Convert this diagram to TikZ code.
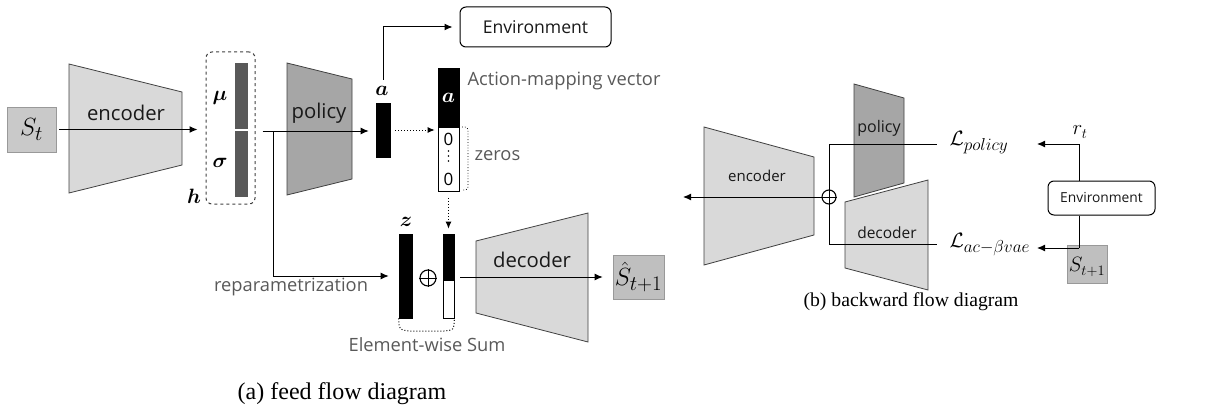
\documentclass[tikz,border=0pt]{standalone}
\usepackage{amsmath,bm}
\usepackage{fontspec}
\setmainfont{Liberation Serif}
\newfontfamily\lblfont{Open Sans}
\usetikzlibrary{arrows.meta}

% larger sub/superscripts for the state and loss symbols
\DeclareMathSizes{28}{28}{21}{16}
\DeclareMathSizes{26}{26}{19.5}{15}
\DeclareMathSizes{21}{21}{17}{12}
\DeclareMathSizes{20}{20}{15.5}{11}

\definecolor{lightfill}{HTML}{D9D9D9}
\definecolor{policyfill}{HTML}{A6A6A6}
\definecolor{statefill}{HTML}{C9C9C9}
\definecolor{statedark}{HTML}{BFBFBF}
\definecolor{barfill}{HTML}{595959}
\definecolor{labelgray}{HTML}{595959}
\definecolor{edgegray}{HTML}{404040}

\begin{document}
\begin{tikzpicture}[x=1pt,y=-1pt,
  net/.style={draw=edgegray, line width=0.8pt},
  flow/.style={-{Latex[length=8pt,width=7pt]}, line width=1pt},
  dotflow/.style={-{Latex[length=7pt,width=6pt]}, line width=1pt, dotted},
  plain/.style={line width=1pt},
  statebox/.style={draw=gray!80, line width=0.6pt, inner sep=0pt},
  blackbar/.style={fill=black, draw=black, line width=0.6pt, inner sep=0pt, minimum width=14pt},
  whitebar/.style={fill=white, draw=black, line width=0.6pt, inner sep=0pt},
  envbox/.style={draw=black, line width=1pt, rounded corners=6pt, inner sep=0pt, fill=white},
  sumcirc/.style={circle, draw=black, line width=1.1pt, inner sep=0pt, fill=white},
  bigtext/.style={font=\lblfont\fontsize{20.3}{20.3}\selectfont, text=black!90},
  midtext/.style={font=\lblfont\fontsize{15.5}{15.5}\selectfont, text=black!90},
  graytext/.style={font=\lblfont\fontsize{18.3}{18.3}\selectfont, text=labelgray},
]
\useasboundingbox (0,0) rectangle (1225,409);

%% ---------------- (a) feed flow ----------------
% input state
\node[statebox, fill=statefill, minimum width=49pt, minimum height=45pt] (st) at (31.5,129.5)
  {\fontsize{28}{28}\selectfont$S_t$};

% encoder
\draw[net, fill=lightfill] (69,64) -- (182,92) -- (182,165) -- (69,193) -- cycle;
\node[bigtext] (enc) at (126,113) {encoder};

% latent h = (mu, sigma)
\node[draw=edgegray, dashed, line width=1pt, rounded corners=6pt,
      minimum width=49pt, minimum height=152pt] (hbox) at (230.5,128) {};
\node[fill=barfill, inner sep=0pt, minimum width=13pt, minimum height=65.5pt] (mubar) at (241.5,96) {};
\node[fill=barfill, inner sep=0pt, minimum width=13pt, minimum height=66pt] (sigbar) at (241.5,164) {};
\node (mu) at (220,98) {\fontsize{20}{20}\selectfont$\bm{\mu}$};
\node (sig) at (220,163) {\fontsize{20}{20}\selectfont$\bm{\sigma}$};
\node (hlab) at (194,196) {\fontsize{22}{22}\selectfont$\bm{h}$};

\draw[flow, shorten <=3pt, shorten >=8pt] (st.east) -- (st.east -| hbox.west);

% policy
\draw[net, fill=policyfill] (287,63) -- (352,79) -- (352,179) -- (287,195) -- cycle;
\node[bigtext] (pol) at (319,113) {policy};

% action vector a
\node[blackbar, minimum height=54pt] (abar) at (383,130) {};
\node (alab) at (382,91) {\fontsize{20}{20}\selectfont$\bm{a}$};
\coordinate (split) at (273,131);
\draw[flow, shorten >=7pt] ([xshift=7pt]hbox.east |- split) -- (split -| abar.west);

% environment
\node[envbox, minimum width=151pt, minimum height=40pt] (env) at (535.5,27) {};
\node[font=\lblfont\fontsize{17.6}{17.6}\selectfont, text=black!90] (envlab) at (env) {Environment};
\coordinate (aup) at (383,80);
\draw[flow, shorten >=7pt] (aup) |- (env.west);

% action-mapping vector: action on top, zero padding below
\node[blackbar, minimum width=21pt, minimum height=59pt] (amv) at (448.5,97.5)
  {\color{white}\fontsize{20}{20}\selectfont$\bm{a}$};
\node[whitebar, minimum width=21pt, minimum height=64pt, anchor=north] (zer) at (amv.south) {};
\node[font=\lblfont\fontsize{17}{17}\selectfont, inner sep=0pt] (z0a) at (448.5,139) {0};
\foreach \yy in {151,156,161} \fill (448.5,\yy) circle (0.9pt);
\node[font=\lblfont\fontsize{17}{17}\selectfont, inner sep=0pt] (z0b) at (448.5,179) {0};
\node[graytext, anchor=west] (amvlab) at (464,81) {Action-mapping vector};
\draw[dotted, line width=0.8pt, rounded corners=3pt] (462,127) -- (468,127) -- (468,190) -- (462,190);
\node[graytext, anchor=west] (zlab) at (471,156) {zeros};
\draw[dotflow, shorten <=5pt, shorten >=3pt] (abar.east) -- (abar.east -| amv.west);

% z and padded action
\node[blackbar, minimum width=13pt, minimum height=84pt] (zbar) at (405.5,276) {};
\node (zlab2) at (406,222) {\fontsize{20}{20}\selectfont$\bm{z}$};
\node[blackbar, minimum width=11pt, minimum height=46pt] (pa) at (448.5,257) {};
\node[whitebar, minimum width=11pt, minimum height=38pt, anchor=north] (pz) at (pa.south) {};
\draw[dotflow, shorten <=6pt, shorten >=5pt] (zer.south) -- (zer.south |- pa.north);
\node[sumcirc, minimum size=16pt] (plus1) at (428,278) {};
\draw[line width=1pt] (plus1.north) -- (plus1.south) (plus1.west) -- (plus1.east);
\draw[flow, shorten >=10pt] (split) |- (zbar.west |- 0,276);
\node[graytext] (rep) at (291,287) {reparametrization};

% element-wise sum brace
\draw[dotted, line width=1pt] (zbar.south west) .. controls (399,330) .. (410,331)
  -- (444,331) .. controls (454,330) .. (pz.south east);
\node[graytext] (ews) at (427,345) {Element-wise Sum};

% decoder
\draw[net, fill=lightfill] (476,241) -- (588,213) -- (588,342) -- (476,313) -- cycle;
\node[bigtext] (dec) at (532,260) {decoder};
\node[statebox, fill=statedark, minimum width=51pt, minimum height=44pt] (sh) at (638.5,277)
  {\fontsize{26}{26}\selectfont$\hat{S}_{t+1}$};
\coordinate (decin) at (460,277);
\draw[flow, shorten >=10pt] (decin) -- (decin -| sh.west);

\node[font=\fontsize{24}{24}\selectfont] (capa) at (342,394) {(a) feed flow diagram};

%% ---------------- (b) backward flow ----------------
\draw[net, fill=lightfill] (704,127) -- (814,157) -- (814,235) -- (704,265) -- cycle;
\node[midtext, font=\lblfont\fontsize{15}{15}\selectfont] (benc) at (757,176) {encoder};
\draw[net, fill=policyfill] (854,84) -- (904,98) -- (904,183) -- (854,197) -- cycle;
\node[midtext, font=\lblfont\fontsize{16}{16}\selectfont] (bpol) at (879,128) {policy};
\draw[net, fill=lightfill] (845,202) -- (928,180) -- (928,290) -- (845,268) -- cycle;
\node[midtext] (bdec) at (887,233) {decoder};

\node[sumcirc, minimum size=14pt] (op) at (829,197) {};
\draw[plain] (op.north) -- (op.south) (op.west) -- (op.east);
\coordinate (bout) at (683,197);
\draw[flow] (op.west) -- (bout);

\node[anchor=west] (lpol) at (946,143) {\fontsize{21}{21}\selectfont$\mathcal{L}_{policy}$};
\node[anchor=west] (lvae) at (946,245) {\fontsize{21}{21}\selectfont$\mathcal{L}_{ac-\beta vae}$};
\draw[plain] (op.north) |- (937,144);
\draw[plain] (op.south) |- (937,244);

\node[statebox, fill=statedark, minimum width=40pt, minimum height=38pt] (bs) at (1087,264) {};
\node (bslab) at (1087,267) {\fontsize{20}{20}\selectfont$S_{t+1}$};
\node[envbox, minimum width=107pt, minimum height=34pt] (benv) at (1101.5,198) {};
\node[font=\lblfont\fontsize{13.8}{13.8}\selectfont, text=black!90] (benvlab) at (benv) {Environment};
\coordinate (rt) at (1079,144);
\coordinate (st1) at (1079,248);
\node (rtlab) at (1080,132) {\fontsize{20}{20}\selectfont$r_t$};
\draw[plain] (benv.north -| rt) -- (rt);
\draw[flow] (rt) -- (1037,144);
\draw[plain] (benv.south -| st1) -- (st1);
\draw[flow] (st1) -- (1037,248);

\node[font=\fontsize{19.7}{19.7}\selectfont] (capb) at (911,302) {(b) backward flow diagram};
\end{tikzpicture}
\end{document}
